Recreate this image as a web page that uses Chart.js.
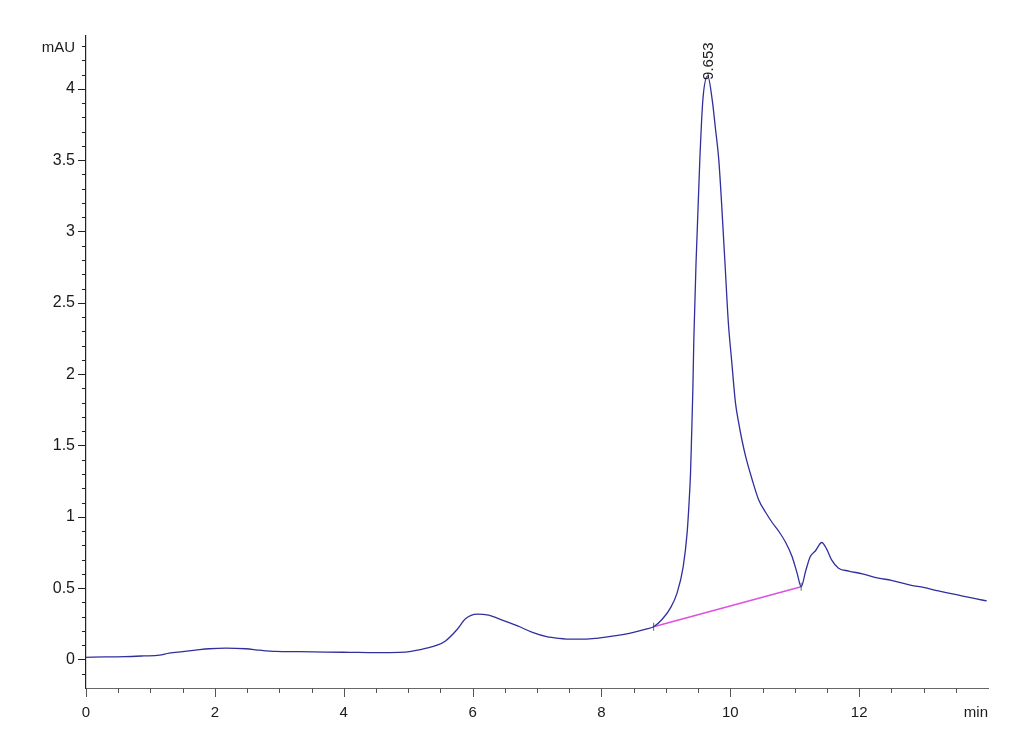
<!DOCTYPE html>
<html>
<head>
<meta charset="utf-8">
<script src="https://cdn.jsdelivr.net/npm/chart.js@4.4.1/dist/chart.umd.min.js"></script>
<style>html,body{margin:0;padding:0;background:#fff}</style>
</head>
<body>
<canvas id="chrom" width="1030" height="755"></canvas>
<script>
// retention time (min) and detector signal (mAU)
const times = [0, 0.3, 0.6, 0.9, 1.14, 1.29, 1.5, 1.7, 1.91, 2.17, 2.48, 2.7, 2.95, 3.3, 3.72, 4.1, 4.5, 4.86, 5.02, 5.27,
  5.45, 5.58, 5.76, 5.89, 6.07, 6.25, 6.41, 6.7, 6.93, 7.15, 7.34, 7.55, 7.76, 7.95, 8.17, 8.45, 8.69, 8.81, 8.94, 9.07,
  9.175, 9.27, 9.33, 9.357, 9.383, 9.398, 9.419, 9.434, 9.47, 9.527, 9.574, 9.65, 9.72, 9.77, 9.822, 9.915, 9.97, 10.02, 10.08, 10.13,
  10.18, 10.24, 10.34, 10.44, 10.55, 10.65, 10.75, 10.86, 10.96, 11.04, 11.10, 11.17, 11.24, 11.32, 11.42, 11.5, 11.57, 11.68, 11.84, 12.05,
  12.3, 12.5, 12.81, 13.0, 13.23, 13.45, 13.65, 13.82, 13.98];
const signal = [0.015, 0.018, 0.02, 0.025, 0.03, 0.045, 0.055, 0.065, 0.075, 0.08, 0.075, 0.065, 0.057, 0.055, 0.052, 0.05, 0.048, 0.05, 0.055, 0.078,
  0.1, 0.13, 0.21, 0.285, 0.318, 0.31, 0.285, 0.235, 0.19, 0.16, 0.148, 0.142, 0.142, 0.15, 0.163, 0.185, 0.212, 0.229, 0.28, 0.36,
  0.467, 0.653, 0.887, 1.073, 1.306, 1.54, 1.89, 2.24, 2.8, 3.5, 3.92, 4.09, 3.92, 3.72, 3.5, 2.8, 2.36, 2.1, 1.8, 1.66,
  1.54, 1.42, 1.26, 1.12, 1.03, 0.96, 0.9, 0.82, 0.72, 0.6, 0.51, 0.62, 0.72, 0.76, 0.82, 0.77, 0.7, 0.64, 0.62, 0.6,
  0.57, 0.555, 0.52, 0.505, 0.48, 0.46, 0.44, 0.425, 0.41];

// integration baseline under the main peak
const baseTimes = [8.81, 11.10];
const baseValues = [0.229, 0.51];

// peak annotation
const peakTimes = [9.653];
const peakHeights = [4.09];
const peakLabels = ['9.653'];

// axis ticks
const xTickValues = [0, 2, 4, 6, 8, 10, 12];
const xTickLabels = ['0', '2', '4', '6', '8', '10', '12'];
const yTickValues = [0, 0.5, 1, 1.5, 2, 2.5, 3, 3.5, 4];
const yTickLabels = ['0', '0.5', '1', '1.5', '2', '2.5', '3', '3.5', '4'];

const FONT = '"Liberation Sans", Arial, sans-serif';

const decor = {
  id: 'decor',
  afterDraw(chart) {
    const ctx = chart.ctx;
    const xs = chart.scales.x, ys = chart.scales.y;
    const left = chart.chartArea.left, bottom = chart.chartArea.bottom;
    ctx.save();
    ctx.lineWidth = 1;
    // x tick marks: major every 2, minor every 0.5
    ctx.strokeStyle = '#555';
    for (let v = 0; v < xs.max - 0.01; v += 0.5) {
      const px = Math.round(xs.getPixelForValue(v)) + 0.5;
      const major = Math.abs(v / 2 - Math.round(v / 2)) < 1e-6;
      ctx.beginPath();
      ctx.moveTo(px, bottom);
      ctx.lineTo(px, bottom + (major ? 9 : 5));
      ctx.stroke();
    }
    // y tick marks: major every 0.5, minor every 0.1
    ctx.strokeStyle = '#222';
    for (let i = -1; i <= 43; i++) {
      const v = i / 10;
      const py = Math.round(ys.getPixelForValue(v)) + 0.5;
      const major = i % 5 === 0;
      ctx.beginPath();
      ctx.moveTo(left - (major ? 8 : 4), py);
      ctx.lineTo(left, py);
      ctx.stroke();
    }
    // unit labels
    ctx.fillStyle = '#1a1a1a';
    ctx.font = '15px ' + FONT;
    ctx.textAlign = 'right';
    ctx.textBaseline = 'middle';
    ctx.fillText('mAU', left - 11, 48);
    ctx.fillText('min', chart.chartArea.right, 713);
    // peak retention-time labels, rotated
    ctx.textAlign = 'left';
    peakTimes.forEach((t, i) => {
      const px = xs.getPixelForValue(t);
      const py = ys.getPixelForValue(peakHeights[i]);
      ctx.save();
      ctx.translate(px + 1, py + 4);
      ctx.rotate(-Math.PI / 2);
      ctx.fillText(peakLabels[i], 0, 0);
      ctx.restore();
    });
    ctx.restore();
  }
};

new Chart(document.getElementById('chrom'), {
  type: 'line',
  data: {
    datasets: [
      {
        data: times.map((t, i) => ({x: t, y: signal[i]})),
        borderColor: '#2f2f9e',
        borderWidth: 1.3,
        pointRadius: 0,
        cubicInterpolationMode: 'monotone',
        fill: false
      },
      {
        data: baseTimes.map((t, i) => ({x: t, y: baseValues[i]})),
        borderColor: '#e050e0',
        borderWidth: 1.5,
        pointStyle: 'line',
        pointRotation: 90,
        pointRadius: 4,
        pointBorderColor: '#666',
        pointBorderWidth: 1,
        fill: false
      }
    ]
  },
  options: {
    responsive: false,
    animation: false,
    layout: { padding: { top: 36, right: 42, left: 0, bottom: 0 } },
    plugins: { legend: { display: false }, tooltip: { enabled: false } },
    scales: {
      x: {
        type: 'linear',
        min: 0,
        max: 14,
        afterFit: s => { s.height = 67; },
        afterBuildTicks: s => { s.ticks = xTickValues.map(v => ({value: v})); },
        ticks: {
          callback: (v, i) => xTickLabels[i],
          font: { family: FONT, size: 15 },
          color: '#1a1a1a',
          padding: 16,
          maxRotation: 0
        },
        grid: { drawOnChartArea: false, drawTicks: false },
        border: { display: true, color: '#666', width: 1 }
      },
      y: {
        type: 'linear',
        min: -0.2,
        max: 4.37,
        afterFit: s => { s.width = 86; },
        afterBuildTicks: s => { s.ticks = yTickValues.map(v => ({value: v})); },
        ticks: {
          callback: (v, i) => yTickLabels[i],
          font: { family: FONT, size: 16 },
          color: '#1a1a1a',
          padding: 11
        },
        grid: { drawOnChartArea: false, drawTicks: false },
        border: { display: true, color: '#222', width: 1.2 }
      }
    }
  },
  plugins: [decor]
});
</script>
</body>
</html>
